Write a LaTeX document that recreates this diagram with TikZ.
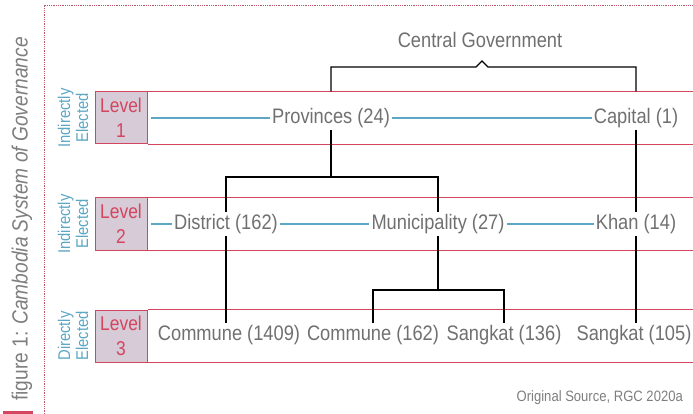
\documentclass[tikz,border=0pt]{standalone}
\usepackage{fontspec}
\setmainfont[FakeStretch=0.87]{Liberation Sans}
\definecolor{rowred}{HTML}{D4455F}
\definecolor{levelfill}{HTML}{D6CBD7}
\definecolor{elblue}{HTML}{5DA7C4}
\definecolor{txtgray}{HTML}{707070}
\tikzset{
  rowline/.style={draw=rowred,line width=1pt},
  levelbox/.style={draw=rowred,line width=1pt,fill=levelfill,text=rowred,align=center,
    minimum width=52pt,minimum height=52pt,inner sep=0pt,font=\fontsize{20}{25}\selectfont},
  unit/.style={text=txtgray,inner sep=2pt,font=\fontsize{21}{21}\selectfont},
  elect/.style={text=elblue,rotate=90,align=center,inner sep=0pt,font=\fontsize{17}{18}\selectfont},
  tie/.style={elblue,line width=1.2pt},
  tree/.style={black,line width=1.4pt}
}
\begin{document}
\begin{tikzpicture}[x=1pt,y=-1pt]%Cambodia
\useasboundingbox (0,0) rectangle (693,414);
\coordinate (right) at (693,0);
% frame and title
\draw[rowred!70!gray,densely dotted,line width=0.8pt] (44,414) -- (44,5) -- (693,5);
\fill[rowred] (3,411) rectangle (33,414);
\node[rotate=90,anchor=west,text=txtgray!90,inner sep=0pt,font=\fontsize{22}{22}\selectfont]
  (title) at (22,401) {figure 1: \textit{Cambodia System of Governance}};
% levels
\node[levelbox] (lv1) at (121,118) {Level\\1};
\node[levelbox] (lv2) at (121,224) {Level\\2};
\node[levelbox] (lv3) at (121,336) {Level\\3};
\foreach \l in {lv1,lv2,lv3}
  \draw[rowline] (\l.north east) -- (\l.north east -| right)
                 (\l.south east) -- (\l.south east -| right);
\node[elect] (el1) at (73,118) {Indirectly\\Elected};
\node[elect] (el2) at (73,224) {Indirectly\\Elected};
\node[elect] (el3) at (73,336) {Directly\\Elected};
% units
\node[unit] (cg) at (480,40) {Central Government};
\node[unit] (prov) at (331,118) {Provinces (24)};
\node[unit] (cap) at (636,118) {Capital (1)};
\node[unit] (dist) at (226,224) {District (162)};
\node[unit] (muni) at (438,224) {Municipality (27)};
\node[unit] (khan) at (636,224) {Khan (14)};
\node[unit] (com1) at (229,335) {Commune (1409)};
\node[unit] (com2) at (373,335) {Commune (162)};
\node[unit] (sang1) at (504,335) {Sangkat (136)};
\node[unit] (sang2) at (634,335) {Sangkat (105)};
\node[text=txtgray!90,anchor=east,inner sep=0pt,font=\fontsize{15}{15}\selectfont]
  (src) at (683,398) {Original Source, RGC 2020a};
% ties within a level
\draw[tie] ([xshift=3pt]lv1.east) -- (prov.west) (prov.east) -- (cap.west);
\draw[tie] ([xshift=3pt]lv2.east) -- (dist.west) (dist.east) -- (muni.west) (muni.east) -- (khan.west);
% tree
\draw[tree] (prov.south |- lv1.north) -- (prov.south |- 0,67) -- (476,67) -- (482,61)
  -- (488,67) -| (cap.south |- lv1.north);
\draw[tree] (prov.south) -- (prov.south |- 0,177);
\draw[tree] (dist.north) |- (muni.north |- 0,177) -- (muni.north);
\draw[tree] (cap.south) -- (khan.north);
\draw[tree] (khan.south) -- (khan.south |- sang2.north);
\draw[tree] (dist.south) -- (dist.south |- com1.north);
\draw[tree] (muni.south) -- (muni.south |- 0,290);
\draw[tree] (com2.north) |- (sang1.north |- 0,290) -- (sang1.north);
\end{tikzpicture}
\end{document}
